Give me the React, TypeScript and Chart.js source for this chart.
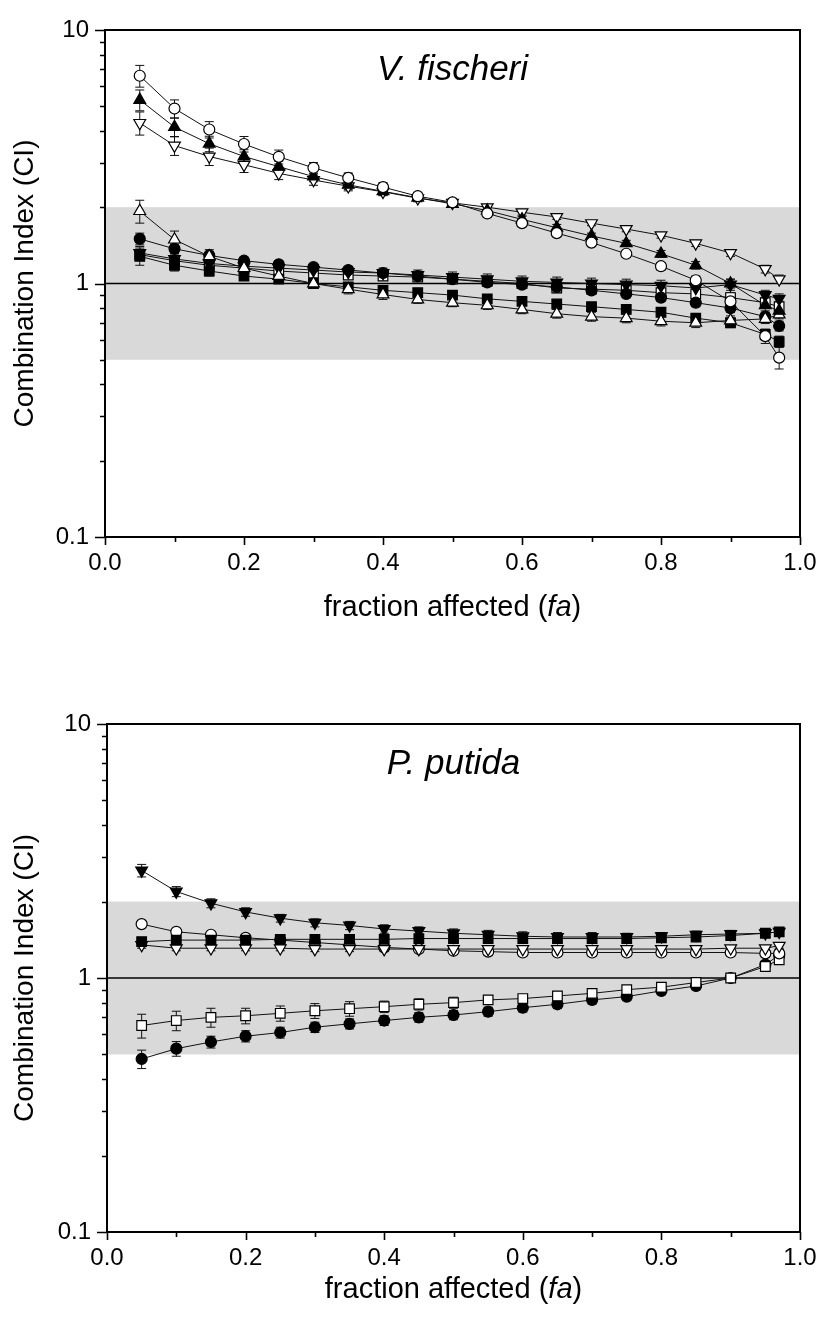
import React, { useEffect, useRef } from 'react';
import { Chart, registerables } from 'chart.js';

Chart.register(...registerables);

// ---------- shared axis data ----------
const FA = [0.05, 0.1, 0.15, 0.2, 0.25, 0.3, 0.35, 0.4, 0.45, 0.5, 0.55, 0.6, 0.65, 0.7, 0.75, 0.8, 0.85, 0.9, 0.95, 0.97];
const X_TICKS = [0, 0.1, 0.2, 0.3, 0.4, 0.5, 0.6, 0.7, 0.8, 0.9, 1.0];
const X_TICK_LABELS = ['0.0', '', '0.2', '', '0.4', '', '0.6', '', '0.8', '', '1.0'];
const Y_TICKS = [0.1, 0.2, 0.3, 0.4, 0.5, 0.6, 0.7, 0.8, 0.9, 1, 2, 3, 4, 5, 6, 7, 8, 9, 10];
const Y_MAJOR = [0.1, 1, 10];
const Y_MAJOR_LABELS = ['0.1', '1', '10'];
const BAND = [0.5, 2];
const REF_LINE = 1;
const Y_TITLE = 'Combination Index (CI)';
const X_TITLE_PARTS: [string, boolean][] = [['fraction affected (', false], ['fa', true], [')', false]];

// ---------- V. fischeri ----------
const VF_TITLE = 'V. fischeri';
const VF_OPEN_CIRCLE = [6.6, 4.9, 4.05, 3.55, 3.16, 2.86, 2.61, 2.4, 2.21, 2.09, 1.89, 1.73, 1.58, 1.45, 1.31, 1.17, 1.03, 0.85, 0.62, 0.51];
const VF_OPEN_CIRCLE_ERR = [0.65, 0.4, 0.3, 0.25, 0.2, 0.14, 0.12, 0.1, 0.08, 0.07, 0.06, 0.05, 0.05, 0.04, 0.04, 0.04, 0.04, 0.04, 0.04, 0.05];
const VF_FILLED_TRI_UP = [5.3, 4.14, 3.56, 3.17, 2.89, 2.64, 2.45, 2.31, 2.18, 2.06, 1.94, 1.79, 1.66, 1.54, 1.44, 1.31, 1.18, 1.0, 0.82, 0.78];
const VF_FILLED_TRI_UP_ERR = [0.5, 0.35, 0.25, 0.2, 0.15, 0.12, 0.1, 0.08, 0.07, 0.06, 0.05, 0.05, 0.05, 0.04, 0.04, 0.04, 0.04, 0.04, 0.04, 0.04];
const VF_OPEN_TRI_DOWN = [4.3, 3.5, 3.17, 2.94, 2.72, 2.56, 2.42, 2.3, 2.17, 2.08, 2.0, 1.91, 1.83, 1.73, 1.64, 1.55, 1.44, 1.32, 1.14, 1.04];
const VF_OPEN_TRI_DOWN_ERR = [0.45, 0.3, 0.25, 0.2, 0.15, 0.12, 0.1, 0.08, 0.07, 0.06, 0.05, 0.05, 0.04, 0.04, 0.04, 0.04, 0.04, 0.04, 0.04, 0.04];
const VF_OPEN_TRI_UP = [1.93, 1.49, 1.28, 1.15, 1.07, 1.0, 0.95, 0.905, 0.865, 0.84, 0.82, 0.79, 0.76, 0.74, 0.73, 0.71, 0.7, 0.715, 0.725, 0.755];
const VF_OPEN_TRI_UP_ERR = [0.2, 0.12, 0.08, 0.06, 0.05, 0.04, 0.04, 0.04, 0.03, 0.03, 0.03, 0.03, 0.03, 0.03, 0.03, 0.03, 0.03, 0.03, 0.03, 0.03];
const VF_FILLED_CIRCLE = [1.5, 1.37, 1.29, 1.23, 1.19, 1.16, 1.13, 1.1, 1.07, 1.04, 1.01, 0.99, 0.97, 0.94, 0.91, 0.88, 0.84, 0.8, 0.74, 0.68];
const VF_FILLED_CIRCLE_ERR = [0.08, 0.06, 0.05, 0.04, 0.04, 0.03, 0.03, 0.03, 0.03, 0.03, 0.03, 0.03, 0.03, 0.03, 0.03, 0.03, 0.03, 0.03, 0.03, 0.03];
const VF_FILLED_SQUARE = [1.28, 1.18, 1.12, 1.07, 1.04, 1.0, 0.97, 0.94, 0.92, 0.9, 0.87, 0.85, 0.83, 0.81, 0.79, 0.77, 0.73, 0.7, 0.63, 0.59];
const VF_FILLED_SQUARE_ERR = [0.1, 0.06, 0.05, 0.04, 0.03, 0.03, 0.03, 0.03, 0.03, 0.03, 0.03, 0.03, 0.03, 0.03, 0.03, 0.03, 0.03, 0.03, 0.03, 0.03];
const VF_FILLED_TRI_DOWN = [1.32, 1.25, 1.2, 1.17, 1.15, 1.13, 1.11, 1.1, 1.08, 1.06, 1.04, 1.02, 1.01, 1.0, 0.99, 0.98, 0.96, 0.99, 0.9, 0.87];
const VF_FILLED_TRI_DOWN_ERR = [0.08, 0.06, 0.05, 0.05, 0.05, 0.05, 0.05, 0.05, 0.05, 0.05, 0.05, 0.05, 0.05, 0.05, 0.05, 0.05, 0.05, 0.05, 0.04, 0.04];
const VF_OPEN_SQUARE = [1.3, 1.23, 1.18, 1.15, 1.12, 1.1, 1.08, 1.07, 1.06, 1.04, 1.02, 1.0, 0.96, 0.95, 0.94, 0.92, 0.91, 0.88, 0.84, 0.81];
const VF_OPEN_SQUARE_ERR = [0.06, 0.05, 0.04, 0.04, 0.04, 0.04, 0.04, 0.04, 0.04, 0.04, 0.04, 0.04, 0.04, 0.04, 0.04, 0.04, 0.04, 0.04, 0.04, 0.04];

// ---------- P. putida ----------
const PP_TITLE = 'P. putida';
const PP_FILLED_TRI_DOWN = [2.65, 2.19, 1.97, 1.82, 1.72, 1.65, 1.61, 1.56, 1.53, 1.5, 1.48, 1.46, 1.45, 1.45, 1.45, 1.46, 1.48, 1.49, 1.5, 1.52];
const PP_FILLED_TRI_DOWN_ERR = [0.15, 0.1, 0.08, 0.07, 0.06, 0.06, 0.06, 0.06, 0.06, 0.06, 0.06, 0.06, 0.06, 0.06, 0.05, 0.05, 0.05, 0.05, 0.05, 0.05];
const PP_OPEN_CIRCLE = [1.63, 1.52, 1.48, 1.44, 1.41, 1.38, 1.35, 1.32, 1.3, 1.28, 1.27, 1.26, 1.26, 1.26, 1.26, 1.26, 1.26, 1.26, 1.25, 1.25];
const PP_OPEN_CIRCLE_ERR = [0.05, 0.04, 0.04, 0.04, 0.04, 0.04, 0.04, 0.04, 0.04, 0.04, 0.04, 0.04, 0.04, 0.04, 0.04, 0.04, 0.04, 0.04, 0.04, 0.04];
const PP_FILLED_SQUARE = [1.39, 1.41, 1.41, 1.41, 1.42, 1.42, 1.42, 1.42, 1.43, 1.43, 1.43, 1.43, 1.43, 1.43, 1.43, 1.44, 1.45, 1.47, 1.5, 1.52];
const PP_FILLED_SQUARE_ERR = [0.05, 0.05, 0.05, 0.05, 0.05, 0.05, 0.05, 0.05, 0.05, 0.05, 0.05, 0.05, 0.05, 0.05, 0.05, 0.05, 0.05, 0.05, 0.03, 0.03];
const PP_OPEN_TRI_DOWN = [1.35, 1.31, 1.31, 1.31, 1.31, 1.3, 1.3, 1.3, 1.3, 1.3, 1.3, 1.3, 1.3, 1.3, 1.3, 1.3, 1.3, 1.31, 1.31, 1.34];
const PP_OPEN_TRI_DOWN_ERR = [0.04, 0.03, 0.03, 0.03, 0.03, 0.03, 0.03, 0.03, 0.03, 0.03, 0.03, 0.03, 0.03, 0.03, 0.03, 0.03, 0.03, 0.03, 0.03, 0.03];
const PP_OPEN_SQUARE = [0.65, 0.68, 0.7, 0.71, 0.726, 0.743, 0.757, 0.771, 0.788, 0.8, 0.82, 0.83, 0.85, 0.87, 0.9, 0.92, 0.96, 1.0, 1.11, 1.18];
const PP_OPEN_SQUARE_ERR = [0.07, 0.06, 0.06, 0.05, 0.05, 0.05, 0.05, 0.04, 0.04, 0.04, 0.03, 0.03, 0.03, 0.03, 0.03, 0.03, 0.03, 0.03, 0.04, 0.04];
const PP_FILLED_CIRCLE = [0.48, 0.527, 0.56, 0.59, 0.61, 0.64, 0.66, 0.68, 0.7, 0.715, 0.737, 0.764, 0.788, 0.82, 0.845, 0.89, 0.93, 1.0, 1.13, 1.23];
const PP_FILLED_CIRCLE_ERR = [0.04, 0.035, 0.03, 0.03, 0.03, 0.03, 0.03, 0.03, 0.03, 0.03, 0.03, 0.03, 0.03, 0.03, 0.03, 0.03, 0.03, 0.03, 0.04, 0.05];

type Shape = 'circle' | 'triUp' | 'triDown' | 'rect';
interface Series { values: number[]; errors: number[]; shape: Shape; filled: boolean; }

// first entry is drawn on top
const VF_SERIES: Series[] = [
  { values: VF_OPEN_CIRCLE, errors: VF_OPEN_CIRCLE_ERR, shape: 'circle', filled: false },
  { values: VF_FILLED_TRI_UP, errors: VF_FILLED_TRI_UP_ERR, shape: 'triUp', filled: true },
  { values: VF_OPEN_TRI_DOWN, errors: VF_OPEN_TRI_DOWN_ERR, shape: 'triDown', filled: false },
  { values: VF_OPEN_TRI_UP, errors: VF_OPEN_TRI_UP_ERR, shape: 'triUp', filled: false },
  { values: VF_FILLED_CIRCLE, errors: VF_FILLED_CIRCLE_ERR, shape: 'circle', filled: true },
  { values: VF_FILLED_SQUARE, errors: VF_FILLED_SQUARE_ERR, shape: 'rect', filled: true },
  { values: VF_FILLED_TRI_DOWN, errors: VF_FILLED_TRI_DOWN_ERR, shape: 'triDown', filled: true },
  { values: VF_OPEN_SQUARE, errors: VF_OPEN_SQUARE_ERR, shape: 'rect', filled: false },
];

const PP_SERIES: Series[] = [
  { values: PP_FILLED_TRI_DOWN, errors: PP_FILLED_TRI_DOWN_ERR, shape: 'triDown', filled: true },
  { values: PP_FILLED_SQUARE, errors: PP_FILLED_SQUARE_ERR, shape: 'rect', filled: true },
  { values: PP_OPEN_TRI_DOWN, errors: PP_OPEN_TRI_DOWN_ERR, shape: 'triDown', filled: false },
  { values: PP_OPEN_CIRCLE, errors: PP_OPEN_CIRCLE_ERR, shape: 'circle', filled: false },
  { values: PP_OPEN_SQUARE, errors: PP_OPEN_SQUARE_ERR, shape: 'rect', filled: false },
  { values: PP_FILLED_CIRCLE, errors: PP_FILLED_CIRCLE_ERR, shape: 'circle', filled: true },
];

const FONT = "'Liberation Sans', Arial, Helvetica, sans-serif";
const W = 822;

const decorPlugin = {
  id: 'decor',
  beforeDatasetsDraw(chart: any) {
    const { ctx, chartArea: a, scales } = chart;
    const y = scales.y;
    const x = scales.x;
    ctx.save();
    const yTop = y.getPixelForValue(BAND[1]);
    const yBot = y.getPixelForValue(BAND[0]);
    ctx.fillStyle = '#d9d9d9';
    ctx.fillRect(a.left, yTop, a.right - a.left, yBot - yTop);
    const y1 = y.getPixelForValue(REF_LINE);
    ctx.strokeStyle = '#000';
    ctx.lineWidth = 1.6;
    ctx.beginPath();
    ctx.moveTo(a.left, y1);
    ctx.lineTo(a.right, y1);
    ctx.stroke();
    // error bars
    ctx.lineWidth = 1;
    ctx.strokeStyle = '#111';
    chart.data.datasets.forEach((ds: any) => {
      const errs: number[] = ds.errors;
      if (!errs) return;
      ds.data.forEach((p: any, i: number) => {
        const e = errs[i];
        if (!e) return;
        const px = x.getPixelForValue(p.x);
        const hi = y.getPixelForValue(p.y + e);
        const lo = y.getPixelForValue(Math.max(p.y - e, 0.101));
        ctx.beginPath();
        ctx.moveTo(px, hi);
        ctx.lineTo(px, lo);
        ctx.moveTo(px - 4.5, hi);
        ctx.lineTo(px + 4.5, hi);
        ctx.moveTo(px - 4.5, lo);
        ctx.lineTo(px + 4.5, lo);
        ctx.stroke();
      });
    });
    ctx.restore();
  },
  afterDraw(chart: any, _args: any, opts: any) {
    const { ctx, chartArea: a, scales } = chart;
    const x = scales.x;
    const y = scales.y;
    ctx.save();
    ctx.strokeStyle = '#000';
    // tick marks
    ctx.lineWidth = 1.6;
    ctx.beginPath();
    Y_TICKS.forEach((v) => {
      const py = Math.round(y.getPixelForValue(v)) + 0.5;
      const major = Y_MAJOR.includes(v);
      ctx.moveTo(a.left - (major ? 10 : 5), py);
      ctx.lineTo(a.left, py);
    });
    X_TICKS.forEach((v, i) => {
      const px = Math.round(x.getPixelForValue(v)) + 0.5;
      const major = X_TICK_LABELS[i] !== '';
      ctx.moveTo(px, a.bottom);
      ctx.lineTo(px, a.bottom + (major ? 8 : 5));
    });
    ctx.stroke();
    // frame
    ctx.lineWidth = 2;
    ctx.strokeRect(a.left, a.top, a.right - a.left, a.bottom - a.top);
    // plot title
    ctx.fillStyle = '#000';
    ctx.font = `italic 35px ${FONT}`;
    ctx.textAlign = 'center';
    ctx.textBaseline = 'alphabetic';
    ctx.fillText(opts.title, (a.left + a.right) / 2, a.top + 50);
    // x-axis title with italic part
    const size = 29;
    const parts = X_TITLE_PARTS.map(([t, it]) => {
      ctx.font = `${it ? 'italic ' : ''}${size}px ${FONT}`;
      return { t, it, w: ctx.measureText(t).width };
    });
    const total = parts.reduce((s, p) => s + p.w, 0);
    let cx = (a.left + a.right) / 2 - total / 2;
    ctx.textAlign = 'left';
    ctx.textBaseline = 'middle';
    parts.forEach((p) => {
      ctx.font = `${p.it ? 'italic ' : ''}${size}px ${FONT}`;
      ctx.fillText(p.t, cx, opts.xTitleY);
      cx += p.w;
    });
    ctx.restore();
  },
};

interface PanelProps {
  title: string;
  series: Series[];
  height: number;
  areaTop: number;
  areaBottom: number;
  areaLeft: number;
  areaRight: number;
  xTitleY: number;
}

function Panel({ title, series, height, areaTop, areaBottom, areaLeft, areaRight, xTitleY }: PanelProps) {
  const ref = useRef<HTMLCanvasElement>(null);
  useEffect(() => {
    if (!ref.current) return;
    const xAxisH = 70;
    const datasets = series.map((s) => {
      const style = s.shape === 'triUp' || s.shape === 'triDown' ? 'triangle' : s.shape;
      const radius = s.shape === 'circle' ? 5.5 : 6.8;
      return {
        data: FA.map((fx, i) => ({ x: fx, y: s.values[i] })),
        errors: s.errors,
        borderColor: '#111',
        borderWidth: 1,
        backgroundColor: s.filled ? '#000' : '#fff',
        pointStyle: style,
        pointRotation: s.shape === 'triDown' ? 180 : 0,
        pointRadius: radius,
        pointBorderWidth: 1.2,
        pointBorderColor: '#000',
        pointBackgroundColor: s.filled ? '#000' : '#fff',
        tension: 0,
        fill: false,
      };
    });
    const chart = new Chart(ref.current, {
      type: 'line',
      data: { datasets } as any,
      plugins: [decorPlugin],
      options: {
        responsive: false,
        animation: false,
        events: [],
        layout: { padding: { top: areaTop, right: W - areaRight, bottom: height - areaBottom - xAxisH, left: 0 } },
        plugins: {
          legend: { display: false },
          tooltip: { enabled: false },
          decor: { title, xTitleY },
        } as any,
        scales: {
          x: {
            type: 'linear',
            min: 0,
            max: 1,
            afterBuildTicks: (s: any) => { s.ticks = X_TICKS.map((v) => ({ value: v })); },
            afterFit: (s: any) => { s.height = xAxisH; },
            grid: { display: true, drawOnChartArea: false, drawTicks: true, tickLength: 8, tickColor: 'rgba(0,0,0,0)' },
            border: { display: false },
            ticks: {
              autoSkip: false,
              maxRotation: 0,
              padding: 4,
              color: '#000',
              font: { family: FONT, size: 24 },
              callback: (_v: any, i: number) => X_TICK_LABELS[i],
            },
          },
          y: {
            type: 'logarithmic',
            min: 0.1,
            max: 10,
            afterBuildTicks: (s: any) => { s.ticks = Y_TICKS.map((v) => ({ value: v })); },
            afterFit: (s: any) => { s.width = areaLeft; },
            grid: { display: true, drawOnChartArea: false, drawTicks: true, tickLength: 10, tickColor: 'rgba(0,0,0,0)' },
            border: { display: false },
            ticks: {
              autoSkip: false,
              padding: 6,
              color: '#000',
              font: { family: FONT, size: 24 },
              callback: (v: any) => {
                const k = Y_MAJOR.findIndex((m) => Math.abs(m - Number(v)) < 1e-9);
                return k >= 0 ? Y_MAJOR_LABELS[k] : '';
              },
            },
            title: {
              display: true,
              text: Y_TITLE,
              color: '#000',
              font: { family: FONT, size: 28 },
              padding: { top: 8, bottom: 0 },
            },
          },
        },
      } as any,
    });
    return () => chart.destroy();
  }, []);
  return <canvas ref={ref} width={W} height={height} style={{ display: 'block', width: W, height }} />;
}

export default function App() {
  return (
    <div style={{ position: 'absolute', left: 0, top: 0, width: W, height: 1320, background: '#fff' }}>
      <Panel title={VF_TITLE} series={VF_SERIES} height={660} areaTop={30} areaBottom={537} areaLeft={105} areaRight={800} xTitleY={608} />
      <Panel title={PP_TITLE} series={PP_SERIES} height={660} areaTop={64} areaBottom={572} areaLeft={107} areaRight={800} xTitleY={630} />
    </div>
  );
}
